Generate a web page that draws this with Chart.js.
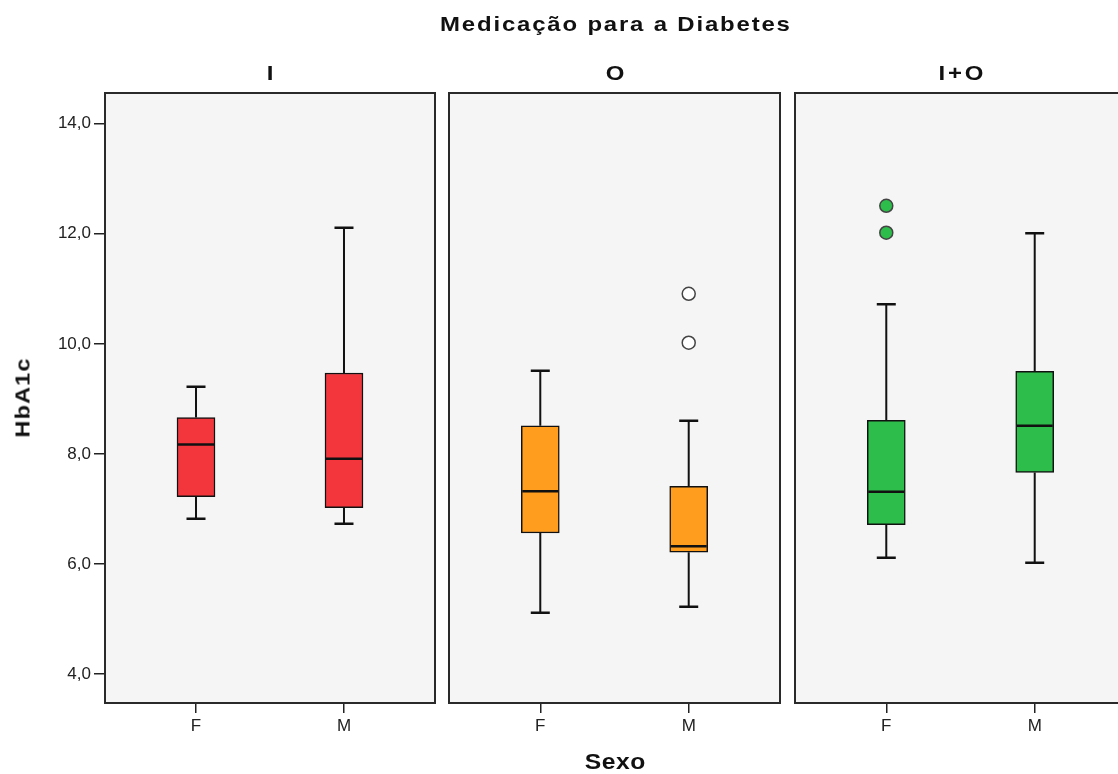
<!DOCTYPE html>
<html>
<head>
<meta charset="utf-8">
<script src="https://cdn.jsdelivr.net/npm/chart.js@4.4.1/dist/chart.umd.min.js"></script>
<style>
  html, body { margin: 0; padding: 0; width: 1118px; height: 774px; overflow: hidden; background: #fff; }
  body { position: relative; font-family: "Liberation Sans", Arial, sans-serif; }
  .panel { position: absolute; top: 0; height: 774px; }
  .lbl { position: absolute; font-weight: bold; color: #111; line-height: 1; white-space: nowrap; z-index: 2; }
</style>
</head>
<body>
<div class="lbl" style="font-size:21px;letter-spacing:1.6px;top:13px;left:615px;transform:translateX(-50%) scaleX(1.14);padding-left:1.6px">Medicação para a Diabetes</div>
<div class="lbl" style="font-size:22px;letter-spacing:0.5px;top:751px;left:615px;transform:translateX(-50%) scaleX(1.12);padding-left:0.5px">Sexo</div>
<div class="lbl" style="font-size:21px;letter-spacing:1px;top:398px;left:22px;transform:translate(-50%,-50%) rotate(-90deg) scaleX(1.12);padding-left:1px">HbA1c</div>

<script>
// Medication groups (panels) and sex categories
const groups = ['I', 'O', 'I+O'];
const sexes = ['F', 'M'];
const yTicks = [4, 6, 8, 10, 12, 14];

// Box plot statistics per panel: [F, M]
const whiskerLow  = [[6.82, 6.73], [5.11, 5.22], [6.11, 6.02]];
const q1          = [[7.22, 7.02], [6.56, 6.21], [6.71, 7.66]];
const median      = [[8.17, 7.91], [7.32, 6.32], [7.31, 8.51]];
const q3          = [[8.66, 9.47], [8.51, 7.41], [8.61, 9.50]];
const whiskerHigh = [[9.22, 12.11], [9.51, 8.60], [10.72, 12.01]];
const outliers    = [[[], []], [[], [10.02, 10.91]], [[12.02, 12.51], []]];

const fillColors = ['#f3363c', '#ff9d1f', '#2dbd4a'];
const outlierFill = ['#ffffff', '#ffffff', '#2dbd4a'];

// panel placement
const panelLeft = [0, 447, 793];
const panelWidth = [437, 335, 335];
const axisWidth = [105, 0, 0];
const padLeft = [0, 2, 2];

Chart.defaults.font.family = '"Liberation Sans", Arial, sans-serif';
Chart.defaults.color = '#222';

// grey panel background + frame
const framePlugin = {
  id: 'frame',
  beforeDatasetsDraw(chart) {
    const a = chart.chartArea, c = chart.ctx;
    c.save();
    c.fillStyle = '#f5f5f5';
    c.fillRect(a.left, a.top, a.right - a.left, a.bottom - a.top);
    c.restore();
  },
  afterDraw(chart) {
    const a = chart.chartArea, c = chart.ctx;
    c.save();
    c.strokeStyle = '#2a2a2a';
    c.lineWidth = 2;
    c.strokeRect(a.left, a.top, a.right - a.left, a.bottom - a.top);
    c.restore();
  }
};

// whiskers, caps and medians
const whiskerPlugin = {
  id: 'whiskers',
  afterDatasetsDraw(chart, args, opts) {
    const p = opts.panel;
    const xs = chart.scales.x, ys = chart.scales.y, c = chart.ctx;
    c.save();
    c.strokeStyle = '#111';
    sexes.forEach((s, j) => {
      const x = xs.getPixelForValue(j + 1);
      const yLo = ys.getPixelForValue(whiskerLow[p][j]);
      const yQ1 = ys.getPixelForValue(q1[p][j]);
      const yMed = ys.getPixelForValue(median[p][j]);
      const yQ3 = ys.getPixelForValue(q3[p][j]);
      const yHi = ys.getPixelForValue(whiskerHigh[p][j]);
      c.lineWidth = 2;
      c.beginPath();
      c.moveTo(x, yLo); c.lineTo(x, yQ1);
      c.moveTo(x, yQ3); c.lineTo(x, yHi);
      c.stroke();
      c.lineWidth = 2.5;
      c.beginPath();
      c.moveTo(x - 9.5, yLo); c.lineTo(x + 9.5, yLo);
      c.moveTo(x - 9.5, yHi); c.lineTo(x + 9.5, yHi);
      c.stroke();
      c.beginPath();
      c.moveTo(x - 18, yMed); c.lineTo(x + 18, yMed);
      c.stroke();
    });
    c.restore();
  }
};

groups.forEach((g, p) => {
  const holder = document.createElement('div');
  holder.className = 'panel';
  holder.style.left = panelLeft[p] + 'px';
  holder.style.width = panelWidth[p] + 'px';
  const cv = document.createElement('canvas');
  holder.appendChild(cv);
  document.body.appendChild(holder);

  // panel label
  const lab = document.createElement('div');
  lab.className = 'lbl';
  lab.textContent = g;
  const inner = panelWidth[p] - axisWidth[p] - padLeft[p] - 2;
  const cx = panelLeft[p] + axisWidth[p] + padLeft[p] + inner / 2;
  lab.style.cssText = 'font-size:21px;letter-spacing:2.5px;padding-left:2.5px;top:62px;left:' + cx + 'px;transform:translateX(-50%) scaleX(1.14)';
  document.body.appendChild(lab);

  const outlierData = [];
  sexes.forEach((s, j) => outliers[p][j].forEach(v => outlierData.push({ x: j + 1, y: v })));

  new Chart(cv, {
    type: 'bar',
    data: {
      datasets: [{
        data: sexes.map((s, j) => ({ x: j + 1, y: [q1[p][j], q3[p][j]] })),
        backgroundColor: fillColors[p],
        borderColor: '#111',
        borderWidth: 1.5,
        borderSkipped: false,
        barThickness: 38
      }, {
        type: 'scatter',
        data: outlierData,
        pointRadius: 6.5,
        pointBackgroundColor: outlierFill[p],
        pointBorderColor: '#444',
        pointBorderWidth: 1.5
      }]
    },
    options: {
      responsive: true,
      maintainAspectRatio: false,
      animation: false,
      layout: { autoPadding: false, padding: { top: 93, bottom: 1, left: padLeft[p], right: 2 } },
      plugins: {
        legend: { display: false },
        tooltip: { enabled: false },
        whiskers: { panel: p }
      },
      scales: {
        x: {
          type: 'linear',
          offset: false,
          min: 0.385,
          max: 2.615,
          afterFit: s => { s.height = 70; s.paddingLeft = 0; s.paddingRight = 0; },
          afterBuildTicks: s => { s.ticks = sexes.map((c, j) => ({ value: j + 1 })); },
          ticks: {
            callback: v => sexes[v - 1],
            font: { size: 17 },
            color: '#222',
            padding: 3,
            maxRotation: 0
          },
          grid: { offset: false, drawOnChartArea: false, tickLength: 10, color: '#222', lineWidth: 1.5 },
          border: { display: false }
        },
        y: {
          display: p === 0,
          min: 3.47,
          max: 14.56,
          afterFit: s => { s.width = axisWidth[p]; },
          afterBuildTicks: s => { s.ticks = yTicks.map(v => ({ value: v })); },
          ticks: {
            callback: v => v.toFixed(1).replace('.', ','),
            font: { size: 17 },
            color: '#222',
            padding: 3
          },
          grid: { drawOnChartArea: false, tickLength: 11, color: '#222', lineWidth: 1.5 },
          border: { display: false }
        }
      }
    },
    plugins: [framePlugin, whiskerPlugin]
  });
});
</script>
</body>
</html>
